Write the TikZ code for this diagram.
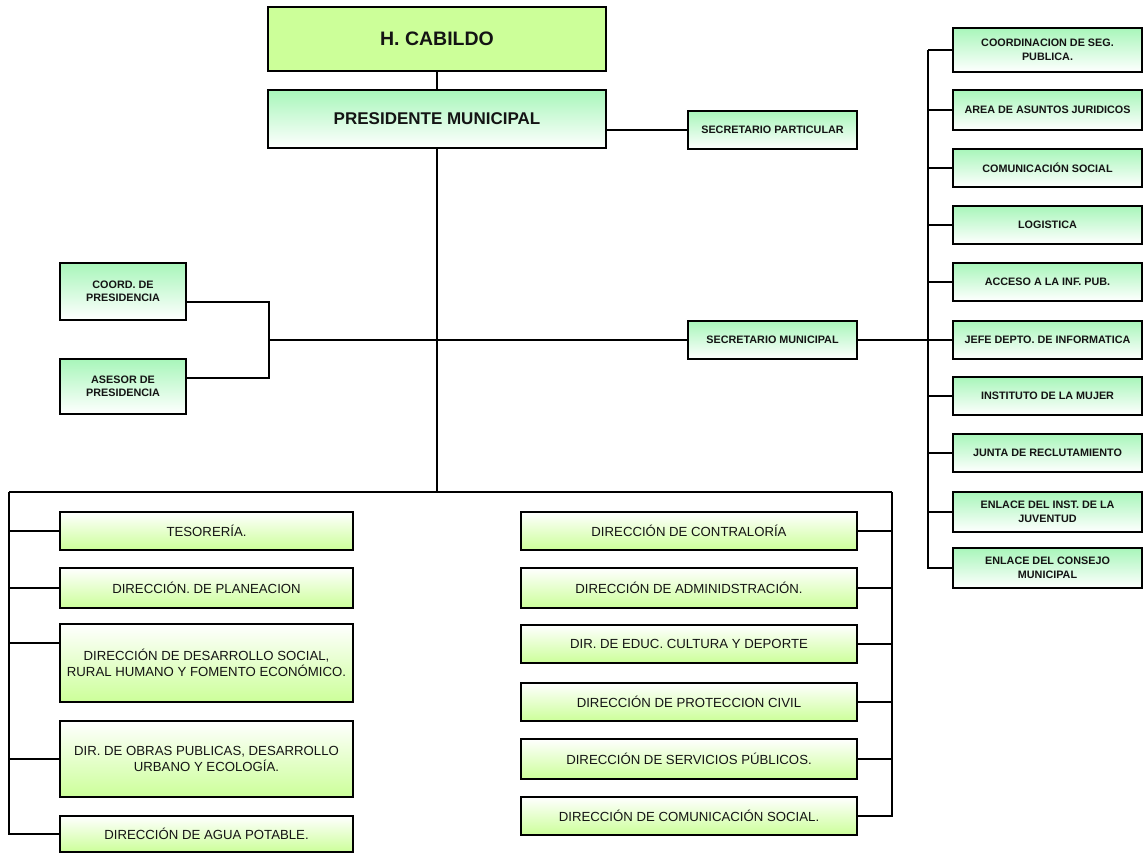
\documentclass[tikz,border=0pt]{standalone}
\usepackage{fontspec}
\setmainfont{Liberation Sans}
\usetikzlibrary{shadows}
\definecolor{mint}{RGB}{168,246,186}
\definecolor{lime}{RGB}{204,255,153}
\definecolor{ink}{RGB}{20,20,20}
\tikzset{
  boxbase/.style={draw=black, line width=1.6pt, inner sep=1pt, align=center, text=ink,
    drop shadow={shadow xshift=1.2pt, shadow yshift=-1.2pt, opacity=1, fill=black}},
  topbox/.style={boxbase, fill=lime, font=\bfseries\fontsize{19.5}{22}\selectfont},
  headbox/.style={boxbase, top color=mint, bottom color=white, font=\bfseries\fontsize{17}{19}\selectfont},
  staffbox/.style={boxbase, top color=mint, bottom color=white, font=\bfseries\fontsize{10.8}{13.5}\selectfont},
  deptbox/.style={boxbase, top color=white, bottom color=lime, font=\fontsize{13.2}{16}\selectfont},
  wire/.style={draw=black, line width=1.7pt},
}
\begin{document}
\begin{tikzpicture}[x=1pt,y=-1pt]
\useasboundingbox[fill=white] (0,0) rectangle (1145,852);

% top of the hierarchy
\node[topbox, minimum width=338pt, minimum height=64pt] (cab) at (437,39) {H. CABILDO};
\node[headbox, minimum width=338pt, minimum height=58pt] (pres) at (437,119) {PRESIDENTE MUNICIPAL};
\node[staffbox, minimum width=169pt, minimum height=38pt] (sp) at (772.5,130) {SECRETARIO PARTICULAR};
\node[staffbox, minimum width=169pt, minimum height=38pt] (sm) at (772.5,340) {SECRETARIO MUNICIPAL};

% advisory staff on the left
\node[staffbox, minimum width=126pt, minimum height=57pt] (coord) at (123,291.5) {COORD. DE\\PRESIDENCIA};
\node[staffbox, minimum width=126pt, minimum height=55pt] (ases) at (123,386.5) {ASESOR DE\\PRESIDENCIA};

% units under the municipal secretary
\node[staffbox, minimum width=189pt, minimum height=44pt] (r1) at (1047.5,50) {COORDINACION DE SEG.\\PUBLICA.};
\node[staffbox, minimum width=189pt, minimum height=40pt] (r2) at (1047.5,110) {AREA DE ASUNTOS JURIDICOS};
\node[staffbox, minimum width=189pt, minimum height=38pt] (r3) at (1047.5,168) {COMUNICACIÓN SOCIAL};
\node[staffbox, minimum width=189pt, minimum height=38pt] (r4) at (1047.5,225) {LOGISTICA};
\node[staffbox, minimum width=189pt, minimum height=38pt] (r5) at (1047.5,282) {ACCESO A LA INF. PUB.};
\node[staffbox, minimum width=189pt, minimum height=38pt] (r6) at (1047.5,340) {JEFE DEPTO. DE INFORMATICA};
\node[staffbox, minimum width=189pt, minimum height=38pt] (r7) at (1047.5,396) {INSTITUTO DE LA MUJER};
\node[staffbox, minimum width=189pt, minimum height=38pt] (r8) at (1047.5,453) {JUNTA DE RECLUTAMIENTO};
\node[staffbox, minimum width=189pt, minimum height=40pt] (r9) at (1047.5,512) {ENLACE DEL INST. DE LA\\JUVENTUD};
\node[staffbox, minimum width=189pt, minimum height=40pt] (r10) at (1047.5,568) {ENLACE DEL CONSEJO\\MUNICIPAL};

% operative directorates, left column
\node[deptbox, minimum width=293pt, minimum height=38pt] (l1) at (206.5,531) {TESORERÍA.};
\node[deptbox, minimum width=293pt, minimum height=40pt] (l2) at (206.5,588) {DIRECCIÓN. DE PLANEACION};
\node[deptbox, minimum width=293pt, minimum height=78pt] (l3) at (206.5,663) {DIRECCIÓN DE DESARROLLO SOCIAL,\\RURAL HUMANO Y FOMENTO ECONÓMICO.};
\node[deptbox, minimum width=293pt, minimum height=76pt] (l4) at (206.5,759) {DIR. DE OBRAS PUBLICAS, DESARROLLO\\URBANO Y ECOLOGÍA.};
\node[deptbox, minimum width=293pt, minimum height=36pt] (l5) at (206.5,834) {DIRECCIÓN DE AGUA POTABLE.};

% operative directorates, right column
\node[deptbox, minimum width=336pt, minimum height=38pt] (d1) at (689,531) {DIRECCIÓN DE CONTRALORÍA};
\node[deptbox, minimum width=336pt, minimum height=40pt] (d2) at (689,588) {DIRECCIÓN DE ADMINIDSTRACIÓN.};
\node[deptbox, minimum width=336pt, minimum height=38pt] (d3) at (689,644) {DIR. DE EDUC. CULTURA Y DEPORTE};
\node[deptbox, minimum width=336pt, minimum height=38pt] (d4) at (689,702) {DIRECCIÓN DE PROTECCION CIVIL};
\node[deptbox, minimum width=336pt, minimum height=40pt] (d5) at (689,759) {DIRECCIÓN DE SERVICIOS PÚBLICOS.};
\node[deptbox, minimum width=336pt, minimum height=38pt] (d6) at (689,816) {DIRECCIÓN DE COMUNICACIÓN SOCIAL.};

% junction points of the connector tree
\coordinate (jadv) at (269,340);
\coordinate (jbus) at (437,492);
\coordinate (jleft) at (9,492);
\coordinate (jright) at (892,492);
\coordinate (jsec) at (928,50);

% connectors
\draw[wire] (cab.south) -- (pres.north);
\draw[wire] (sp.west -| pres.east) -- (sp.west);
\draw[wire] (pres.south) -- (jbus);
\draw[wire] (jleft) -- (jright);
\draw[wire] ([yshift=-10.5pt]coord.east) -| (jadv);
\draw[wire] ([yshift=8.5pt]ases.east) -| (jadv);
\draw[wire] (jadv) -- (jadv -| sm.west);
\draw[wire] (sm.east) -- (r6.west);
\draw[wire] (jsec) -- (jsec |- r10.west) -- (r10.west);
\foreach \r in {r1,r2,r3,r4,r5,r7,r8,r9}
  \draw[wire] (jsec |- \r.west) -- (\r.west);
\draw[wire] (jleft) -- (jleft |- l5.west) -- (l5.west);
\foreach \l in {l1,l2,l4}
  \draw[wire] (jleft |- \l.west) -- (\l.west);
\draw[wire] ([yshift=20pt]l3.west -| jleft) -- ([yshift=20pt]l3.west);
\draw[wire] (jright) -- (jright |- d6.east) -- (d6.east);
\foreach \d in {d1,d2,d3,d4,d5}
  \draw[wire] (jright |- \d.east) -- (\d.east);
\end{tikzpicture}
\end{document}
